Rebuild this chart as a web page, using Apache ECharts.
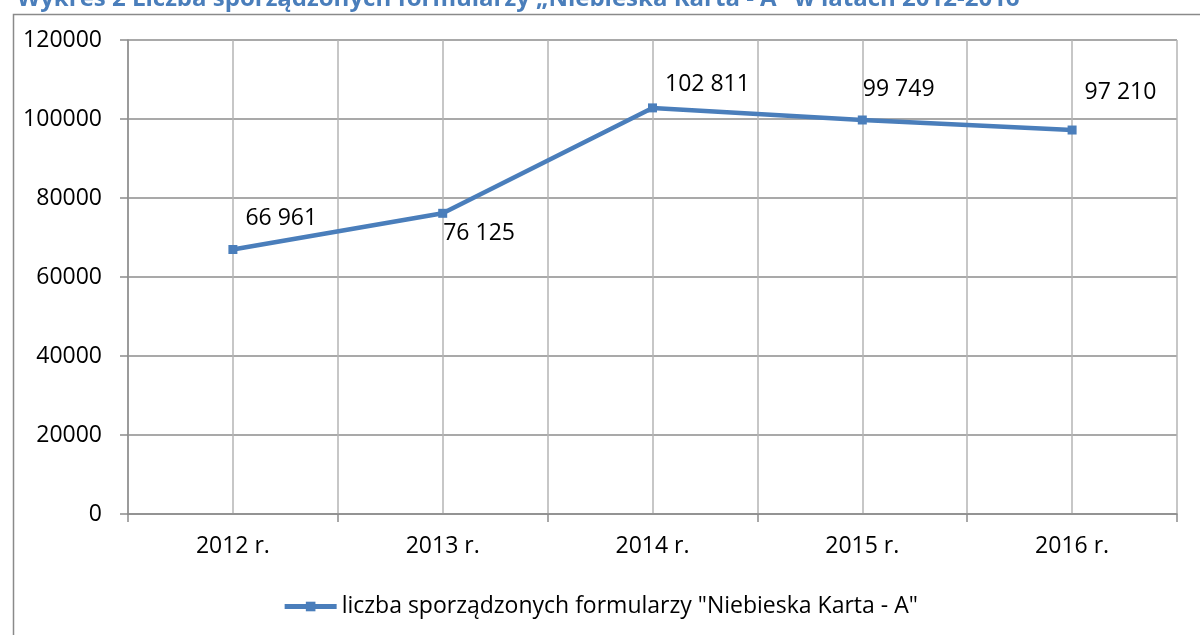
<!DOCTYPE html>
<html>
<head>
<meta charset="utf-8">
<script src="https://cdn.jsdelivr.net/npm/echarts@6/dist/echarts.min.js"></script>
<style>
    html, body { margin: 0; padding: 0; background: #fff; }
    #chart { width: 1200px; height: 635px; }
</style>
</head>
<body>
<div id="chart"></div>
<script>
// lata (oś x)
var years  = ['2012 r.', '2013 r.', '2014 r.', '2015 r.', '2016 r.'];
// liczba formularzy "Niebieska Karta - A"
var counts = [66961, 76125, 102811, 99749, 97210];
// przesunięcie etykiet (ręcznie, jak w Excelu)
var labelOffsets = [[3, -31], [-9, 20], [3, -23], [-9, -31], [3, -38]];
var seriesName = 'liczba sporządzonych formularzy "Niebieska Karta - A"';
var titleText  = 'Wykres 2 Liczba sporządzonych formularzy „Niebieska Karta - A" w latach 2012-2016';

var blue = '#4a7ebb';
var font = '"Open Sans", "Noto Sans", sans-serif';
var fs = 23;

// spacja jako separator tysięcy
function fmt( v ) {
    return String(v).replace(/\B(?=(\d{3})+(?!\d))/g, ' ');
}

var pointData = [];
for ( var i = 0; i < counts.length; i++ ){
    pointData.push({
        value: counts[ i ],
        label: { offset: labelOffsets[ i ] }
    });
}

var myChart = echarts.init( document.getElementById('chart') );
var option = {
    animation: false,
    title: {
        text: titleText,
        left: 12,
        top: -18,
        textStyle: { color: blue, fontSize: 24, fontWeight: 'bold', fontFamily: font }
    },
    graphic: [{
        type: 'rect',
        left: 11, top: 12,
        shape: { width: 1250, height: 700 },
        style: { fill: 'none', stroke: '#8a8a8a', lineWidth: 1.5 },
        silent: true
    }],
    grid: { left: 128, right: 23, top: 40, bottom: 121 },
    legend: {
        data: [ seriesName ],
        left: 'center',
        top: 590,
        itemWidth: 52,
        itemHeight: 12,
        itemGap: 4,
        lineStyle: { width: 5 },
        textStyle: { color: '#000', fontSize: fs, fontFamily: font }
    },
    xAxis: [
        {
            type: 'category',
            data: years,
            boundaryGap: true,
            axisLine: { lineStyle: { color: '#8c8c8c', width: 1.5 } },
            axisTick: { show: true, length: 8, lineStyle: { color: '#8c8c8c', width: 1.5 } },
            splitLine: { show: false },
            axisLabel: { color: '#000', fontSize: fs, fontFamily: font, margin: 21 }
        },
        {
            // pionowe linie siatki (środki i granice kategorii)
            type: 'value',
            min: -0.5,
            max: 4.5,
            interval: 0.5,
            position: 'bottom',
            axisLine: { show: false },
            axisTick: { show: false },
            axisLabel: { show: false },
            splitLine: { show: true, lineStyle: { color: '#b4b4b4', width: 1.5 } }
        }
    ],
    yAxis: {
        type: 'value',
        min: 0,
        max: 120000,
        interval: 20000,
        axisLine: { show: true, onZero: false, lineStyle: { color: '#8c8c8c', width: 1.5 } },
        axisTick: { show: true, length: 8, lineStyle: { color: '#8c8c8c', width: 1.5 } },
        splitLine: { lineStyle: { color: '#8c8c8c', width: 1.5 } },
        axisLabel: {
            color: '#000', fontSize: fs, fontFamily: font, margin: 26,
            formatter: function ( v ) { return String( v ); }
        }
    },
    series: [{
        name: seriesName,
        type: 'line',
        xAxisIndex: 0,
        data: pointData,
        symbol: 'rect',
        symbolSize: 9,
        showAllSymbol: true,
        itemStyle: { color: blue },
        lineStyle: { color: blue, width: 4.5 },
        label: {
            show: true,
            position: 'right',
            color: '#000',
            fontSize: fs,
            fontFamily: font,
            formatter: function ( p ) { return fmt( p.value ); }
        },
        z: 5
    }]
};
myChart.setOption(option);
</script>
</body>
</html>
